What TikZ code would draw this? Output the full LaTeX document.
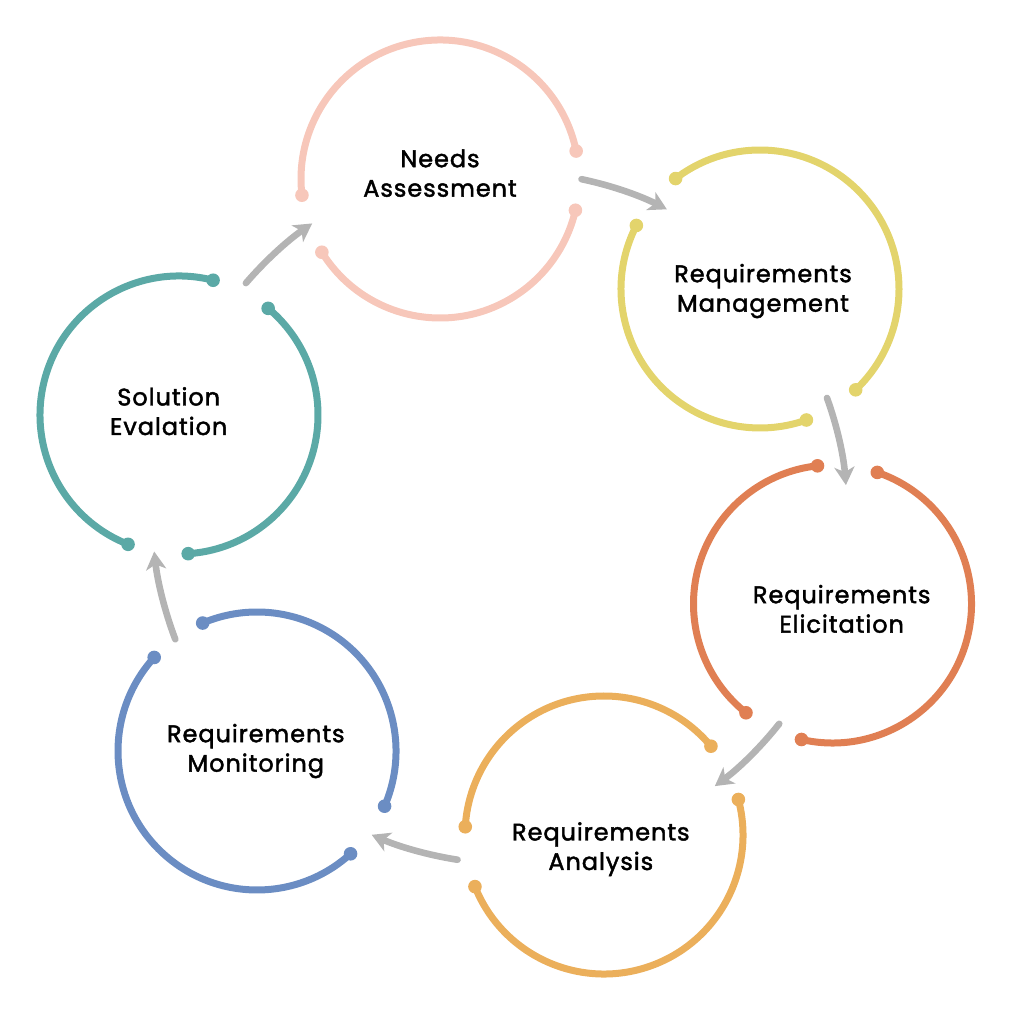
\documentclass[tikz,border=0pt]{standalone}
\usepackage{fontspec}
\setmainfont{Poppins}[FakeBold=1.8,LetterSpace=4]
\usetikzlibrary{arrows.meta,calc}
\definecolor{cNeeds}{HTML}{F7C7BA}
\definecolor{cMgmt}{HTML}{E3D46C}
\definecolor{cElic}{HTML}{E07F53}
\definecolor{cAnal}{HTML}{EBAF5B}
\definecolor{cMon}{HTML}{6B8DC3}
\definecolor{cSol}{HTML}{5BA9A6}
\definecolor{cGray}{HTML}{B4B4B4}
\newcommand\ringarc[4]{%
  \draw[ring,#2] ($(#1)+(#3:139)$) arc[start angle=#3,end angle=#4,radius=139];
  \fill[#2] ($(#1)+(#3:139)$) circle[radius=6.8];
  \fill[#2] ($(#1)+(#4:139)$) circle[radius=6.8];
}
\newcommand\flowarc[3]{%
  \draw[arr] ($(O)+(#1:#3)$) arc[start angle=#1,end angle=#2,radius=#3];
}
\begin{document}
\begin{tikzpicture}[x=1pt,y=1pt,
  ring/.style={line width=7pt},
  arr/.style={draw=cGray,line width=6.6pt,line cap=round,
    -{Stealth[length=18pt,width=20pt,inset=5pt]}},
  lbl/.style={align=center,font=\fontsize{24}{29.5}\selectfont,anchor=base,inner sep=0pt}]
\useasboundingbox (0,0) rectangle (1024,1024);
\coordinate (O) at (512,512);
\coordinate (C1) at (440,845);
\coordinate (C2) at (760,735);
\coordinate (C3) at (832.5,420);
\coordinate (C4) at (604,189);
\coordinate (C5) at (257,273);
\coordinate (C6) at (179,609);
% rings
\ringarc{C1}{cNeeds}{11.6}{186.7}
\ringarc{C1}{cNeeds}{211.8}{347}
\ringarc{C2}{cMgmt}{-46.5}{127.4}
\ringarc{C2}{cMgmt}{152.8}{289.5}
\ringarc{C3}{cElic}{96.2}{231.5}
\ringarc{C3}{cElic}{257.1}{431.2}
\ringarc{C4}{cAnal}{39.7}{176.6}
\ringarc{C4}{cAnal}{201.8}{374.8}
\ringarc{C5}{cMon}{-23.4}{113}
\ringarc{C5}{cMon}{137.7}{312.3}
\ringarc{C6}{cSol}{75.8}{248.5}
\ringarc{C6}{cSol}{273.8}{410.1}
% arrows
\flowarc{139.3}{124.7}{351}
\flowarc{78.2}{62.9}{340}
\flowarc{19.9}{4.6}{335}
\flowarc{-38.4}{-53.5}{341}
\flowarc{261.1}{246.5}{352}
\flowarc{200.7}{186.3}{360}
% labels
\node[lbl] (t1) at (440,827.3) {Needs\\Assessment};
\node[lbl] (t2) at (763,712.3) {Requirements\\Management};
\node[lbl] (t3) at (841.7,391.3) {Requirements\\Elicitation};
\node[lbl] (t4) at (600.8,154) {Requirements\\Analysis};
\node[lbl] (t5) at (255.8,252.3) {Requirements\\Monitoring};
\node[lbl] (t6) at (168.7,589) {Solution\\Evalation};
\end{tikzpicture}
\end{document}
